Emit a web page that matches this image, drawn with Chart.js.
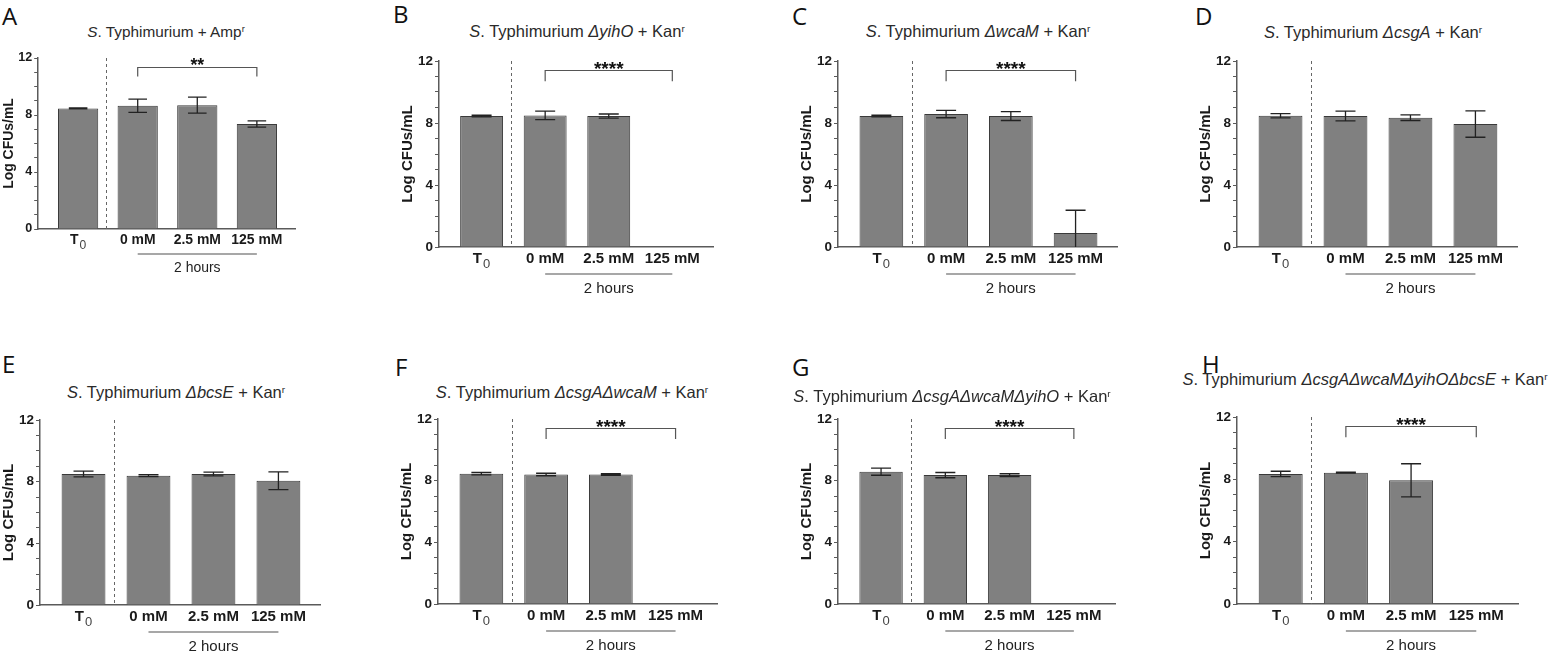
<!DOCTYPE html>
<html>
<head>
<meta charset="utf-8">
<script src="https://cdn.jsdelivr.net/npm/chart.js@4.4.1/dist/chart.umd.min.js"></script>
<style>
  body { margin: 0; background: #fff; }
  #fig { position: relative; width: 1550px; height: 654px; overflow: hidden; font-family: "Liberation Sans", Arial, sans-serif; }
  canvas { position: absolute; }
  .letter { position: absolute; font-family: "Open Sans", sans-serif; font-size: 24px; line-height: 24px; color: #111; }
  .title { position: absolute; white-space: nowrap; color: #2a2a2a; line-height: 1.2; transform: translate(-50%, -50%); }
  .title sup { font-size: 0.6em; vertical-align: 0.55em; line-height: 0; }
</style>
</head>
<body>
<div id="fig"></div>
<script>
// x categories and tick labels
const categories = ['T', '0 mM', '2.5 mM', '125 mM'];
const firstSubscript = '0';
const yTicks = [0, 4, 8, 12];
const timeLabel = '2 hours';
const yLabel = 'Log CFUs/mL';

const panelLetters = ['A', 'B', 'C', 'D', 'E', 'F', 'G', 'H'];
const titles = [
  '<i>S</i>. Typhimurium + Amp<sup>r</sup>',
  '<i>S</i>. Typhimurium <i>ΔyihO</i> + Kan<sup>r</sup>',
  '<i>S</i>. Typhimurium <i>ΔwcaM</i> + Kan<sup>r</sup>',
  '<i>S</i>. Typhimurium <i>ΔcsgA</i> + Kan<sup>r</sup>',
  '<i>S</i>. Typhimurium <i>ΔbcsE</i> + Kan<sup>r</sup>',
  '<i>S</i>. Typhimurium <i>ΔcsgAΔwcaM</i> + Kan<sup>r</sup>',
  '<i>S</i>. Typhimurium <i>ΔcsgAΔwcaMΔyihO</i> + Kan<sup>r</sup>',
  '<i>S</i>. Typhimurium <i>ΔcsgAΔwcaMΔyihOΔbcsE</i> + Kan<sup>r</sup>'
];

// means and error bars (log CFU/mL)
const meanA = [8.46, 8.65, 8.69, 7.37];
const errA  = [0.03, 0.46, 0.56, 0.22];
const meanB = [8.45, 8.49, 8.45, 0];
const errB  = [0.05, 0.27, 0.13, 0];
const meanC = [8.45, 8.58, 8.45, 0.9];
const errC  = [0.05, 0.24, 0.29, 1.47];
const meanD = [8.47, 8.45, 8.34, 7.93];
const errD  = [0.14, 0.31, 0.18, 0.85];
const meanE = [8.5, 8.39, 8.5, 8.06];
const errE  = [0.19, 0.06, 0.12, 0.58];
const meanF = [8.45, 8.4, 8.4, 0];
const errF  = [0.08, 0.08, 0.05, 0];
const meanG = [8.58, 8.36, 8.36, 0];
const errG  = [0.23, 0.17, 0.09, 0];
const meanH = [8.35, 8.43, 7.94, 0];
const errH  = [0.17, 0.03, 1.06, 0];
const significance = ['**', '****', '****', '', '', '****', '****', '****'];

const means = [meanA, meanB, meanC, meanD, meanE, meanF, meanG, meanH];
const errs = [errA, errB, errC, errD, errE, errF, errG, errH];

// page layout: plot area of each panel, title centre, letter position, scale
const boxes = [
  { L: 38,   R: 295,  T: 58,  B: 229, s: 0.93, tx: 166,  ty: 32,  lx: 2,    ly: 4 },
  { L: 439,  R: 713,  T: 61,  B: 247, s: 1,    tx: 577,  ty: 32,  lx: 393,  ly: 2 },
  { L: 838,  R: 1117, T: 61,  B: 247, s: 1,    tx: 978,  ty: 32,  lx: 792,  ly: 4 },
  { L: 1237, R: 1517, T: 61,  B: 247, s: 1,    tx: 1373, ty: 33,  lx: 1195, ly: 4 },
  { L: 40,   R: 320,  T: 420, B: 605, s: 1,    tx: 176,  ty: 393, lx: 2,    ly: 352 },
  { L: 438,  R: 717,  T: 419, B: 604, s: 1,    tx: 572,  ty: 393, lx: 395,  ly: 355 },
  { L: 838,  R: 1115, T: 419, B: 604, s: 1,    tx: 952,  ty: 397, lx: 792,  ly: 355 },
  { L: 1237, R: 1518, T: 417, B: 604, s: 1,    tx: 1365, ty: 380, lx: 1202, ly: 352 }
];

Chart.defaults.font.family = '"Liberation Sans", Arial, sans-serif';
Chart.defaults.color = '#222';

const fig = document.getElementById('fig');
const axisColor = '#5a5a5a';

function overlay(m, e, sig, s) {
  return {
    id: 'overlay',
    afterDatasetsDraw(chart) {
      const { ctx, scales: { x, y } } = chart;
      ctx.save();
      // dashed separator between T0 and 2 h
      ctx.strokeStyle = '#666';
      ctx.lineWidth = 1;
      ctx.setLineDash([3, 3]);
      const dx = Math.round(x.getPixelForValue(0.47)) + 0.5;
      ctx.beginPath();
      ctx.moveTo(dx, y.getPixelForValue(12));
      ctx.lineTo(dx, y.getPixelForValue(0));
      ctx.stroke();
      ctx.setLineDash([]);

      // error bars
      const cap = 10 * s;
      ctx.strokeStyle = '#222';
      ctx.lineWidth = 1.3;
      m.forEach((v, i) => {
        if (!v) return;
        const cx = x.getPixelForValue(i);
        const hi = y.getPixelForValue(v + e[i]);
        const lowV = v - e[i];
        const lo = y.getPixelForValue(Math.max(lowV, 0));
        ctx.beginPath();
        ctx.moveTo(cx, hi); ctx.lineTo(cx, lo);
        ctx.moveTo(cx - cap, hi); ctx.lineTo(cx + cap, hi);
        if (lowV > 0) { ctx.moveTo(cx - cap, lo); ctx.lineTo(cx + cap, lo); }
        ctx.stroke();
      });

      // significance bracket
      if (sig) {
        const x1 = x.getPixelForValue(1), x2 = x.getPixelForValue(3);
        const by = Math.round(y.getPixelForValue(11.4)) + 0.5;
        const leg = y.getPixelForValue(10.7);
        ctx.strokeStyle = '#555';
        ctx.lineWidth = 1.2;
        ctx.beginPath();
        ctx.moveTo(x1, leg); ctx.lineTo(x1, by); ctx.lineTo(x2, by); ctx.lineTo(x2, leg);
        ctx.stroke();
        ctx.fillStyle = '#111';
        ctx.font = 'bold ' + (19 * s) + 'px "Liberation Sans", Arial, sans-serif';
        ctx.textAlign = 'center';
        ctx.textBaseline = 'alphabetic';
        ctx.fillText(sig, (x1 + x2) / 2, by + 4 * s);
      }

      // subscript of the T0 tick label
      const base = y.getPixelForValue(0);
      ctx.fillStyle = '#444';
      ctx.font = (13 * s) + 'px "Liberation Sans", Arial, sans-serif';
      ctx.textAlign = 'left';
      ctx.textBaseline = 'alphabetic';
      ctx.fillText(firstSubscript, x.getPixelForValue(0) + 1.5 * s, base + 21 * s);

      // "2 hours" grouping line
      const g1 = x.getPixelForValue(1), g2 = x.getPixelForValue(3);
      ctx.strokeStyle = '#8a8a8a';
      ctx.lineWidth = 1.5;
      ctx.beginPath();
      ctx.moveTo(g1, base + 27 * s); ctx.lineTo(g2, base + 27 * s);
      ctx.stroke();
      ctx.fillStyle = '#222';
      ctx.font = (15 * s) + 'px "Liberation Sans", Arial, sans-serif';
      ctx.textAlign = 'center';
      ctx.textBaseline = 'middle';
      ctx.fillText(timeLabel, (g1 + g2) / 2, base + 42 * s);
      ctx.restore();
    }
  };
}

boxes.forEach((b, k) => {
  const s = b.s;
  const padL = 4, padR = 10, padT = 12, xH = 58;
  const titleSize = 15 * s;
  const yW = 31 * s + titleSize * 0.6;
  const cw = Math.round(padL + yW + (b.R - b.L) + padR);
  const ch = Math.round(padT + (b.B - b.T) + xH);
  const canvas = document.createElement('canvas');
  canvas.width = cw; canvas.height = ch;
  canvas.style.width = cw + 'px'; canvas.style.height = ch + 'px';
  canvas.style.left = (b.L - yW - padL) + 'px';
  canvas.style.top = (b.T - padT) + 'px';
  fig.appendChild(canvas);

  const letter = document.createElement('div');
  letter.className = 'letter';
  letter.textContent = panelLetters[k];
  letter.style.left = b.lx + 'px';
  letter.style.top = b.ly + 'px';
  fig.appendChild(letter);

  const title = document.createElement('div');
  title.className = 'title';
  title.innerHTML = titles[k];
  title.style.left = b.tx + 'px';
  title.style.top = b.ty + 'px';
  title.style.fontSize = (16.5 * s) + 'px';
  fig.appendChild(title);

  new Chart(canvas, {
    type: 'bar',
    data: {
      datasets: [{
        data: means[k].map((v, i) => ({ x: i, y: v })),
        backgroundColor: '#808080',
        borderColor: '#3a3a3a',
        borderWidth: 1,
        categoryPercentage: 1,
        barPercentage: 0.675
      }]
    },
    options: {
      responsive: false,
      animation: false,
      layout: { padding: { left: padL, right: padR, top: padT, bottom: 0 } },
      plugins: { legend: { display: false }, tooltip: { enabled: false } },
      scales: {
        x: {
          type: 'linear',
          min: -0.67,
          max: 3.64,
          offset: false,
          afterBuildTicks: sc => { sc.ticks = categories.map((c, i) => ({ value: i })); },
          afterFit: sc => { sc.height = xH; },
          ticks: {
            // the first label leaves room for its subscript
            callback: v => v === 0 ? categories[0] + '\u00a0\u00a0' : categories[v],
            autoSkip: false,
            maxRotation: 0,
            padding: 3,
            color: '#1a1a1a',
            font: { size: 15 * s, weight: 'bold' }
          },
          grid: { display: false, drawTicks: false, offset: false },
          border: { display: true, color: axisColor, width: 1.5 }
        },
        y: {
          min: 0,
          max: 12,
          afterFit: sc => { sc.width = yW; },
          ticks: {
            stepSize: 1,
            autoSkip: false,
            padding: 2,
            callback: v => yTicks.includes(v) ? v : '',
            color: '#1a1a1a',
            font: { size: 13.5 * s, weight: 'bold' }
          },
          grid: { drawOnChartArea: false, drawTicks: true, tickLength: 4, color: axisColor, tickWidth: 1 },
          border: { display: true, color: axisColor, width: 1.5 },
          title: {
            display: true,
            text: yLabel,
            padding: 0,
            color: '#1a1a1a',
            font: { size: titleSize, weight: 'bold' }
          }
        }
      }
    },
    plugins: [overlay(means[k], errs[k], significance[k], s)]
  });
});
</script>
</body>
</html>
